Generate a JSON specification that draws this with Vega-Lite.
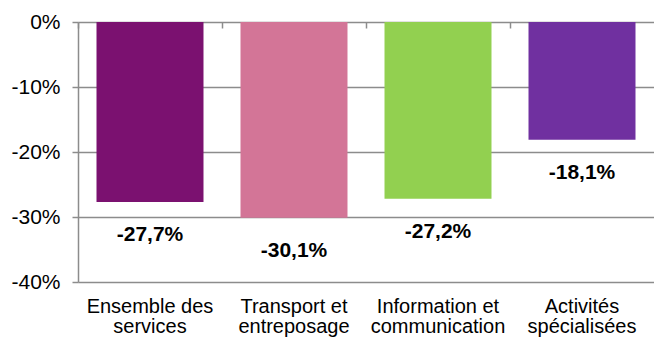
{
  "$schema": "https://vega.github.io/schema/vega-lite/v6.json",
  "autosize": {"type": "none"},
  "width": 576,
  "height": 260,
  "padding": {"left": 78, "top": 22, "right": 0, "bottom": 58},
  "background": "white",
  "config": {
    "view": {"stroke": null},
    "font": "Liberation Sans",
    "axis": {"labelFont": "Liberation Sans", "labelColor": "#000000"}
  },
  "data": {
    "values": [
      {"secteur": "Ensemble des|services", "evolution": -27.7, "couleur": "#7B1170"},
      {"secteur": "Transport et|entreposage", "evolution": -30.1, "couleur": "#D37597"},
      {"secteur": "Information et|communication", "evolution": -27.2, "couleur": "#92D050"},
      {"secteur": "Activités|spécialisées", "evolution": -18.1, "couleur": "#7030A0"}
    ]
  },
  "layer": [
    {
      "mark": {"type": "bar"},
      "encoding": {
        "x": {
          "field": "secteur",
          "type": "nominal",
          "sort": null,
          "scale": {"paddingInner": 0.257, "paddingOuter": 0.1285},
          "axis": {
            "title": null,
            "orient": "bottom",
            "domain": false,
            "ticks": false,
            "labelAngle": 0,
            "labelFontSize": 20,
            "labelLineHeight": 20,
            "labelPadding": 14,
            "labelBaseline": "top",
            "labelExpr": "split(datum.label, '|')"
          }
        },
        "y": {
          "field": "evolution",
          "type": "quantitative",
          "scale": {"domain": [-40, 0], "nice": false},
          "axis": {
            "title": null,
            "values": [-40, -30, -20, -10, 0],
            "labelExpr": "datum.value + '%'",
            "labelFontSize": 21,
            "labelPadding": 12,
            "tickSize": 6,
            "tickColor": "#8C8C8C",
            "tickWidth": 1.5,
            "domainColor": "#8C8C8C",
            "domainWidth": 1.5,
            "grid": true,
            "gridColor": "#8C8C8C",
            "gridWidth": 1.5,
            "zindex": 0
          }
        },
        "y2": {"datum": 0},
        "color": {"field": "couleur", "type": "nominal", "scale": null, "legend": null}
      }
    },
    {
      "mark": {"type": "tick", "opacity": 0},
      "encoding": {
        "x": {
          "field": "secteur",
          "type": "nominal",
          "sort": null,
          "axis": {
            "orient": "top",
            "title": null,
            "labels": false,
            "domain": false,
            "ticks": true,
            "bandPosition": 0,
            "tickOffset": -18.5,
            "tickSize": 6,
            "offset": -6,
            "tickColor": "#8C8C8C",
            "tickWidth": 1.5,
            "grid": false,
            "zindex": 1
          }
        },
        "y": {"field": "evolution", "type": "quantitative"}
      }
    },
    {
      "mark": {
        "type": "text",
        "fontSize": 21,
        "fontWeight": "bold",
        "color": "#000000",
        "baseline": "middle",
        "align": "center",
        "dy": 33
      },
      "encoding": {
        "x": {"field": "secteur", "type": "nominal", "sort": null, "axis": null},
        "y": {"field": "evolution", "type": "quantitative"},
        "text": {"field": "etiquette", "type": "nominal"}
      },
      "transform": [
        {"calculate": "replace(toString(datum.evolution), '.', ',') + '%'", "as": "etiquette"}
      ]
    }
  ],
  "resolve": {"axis": {"x": "independent"}}
}
